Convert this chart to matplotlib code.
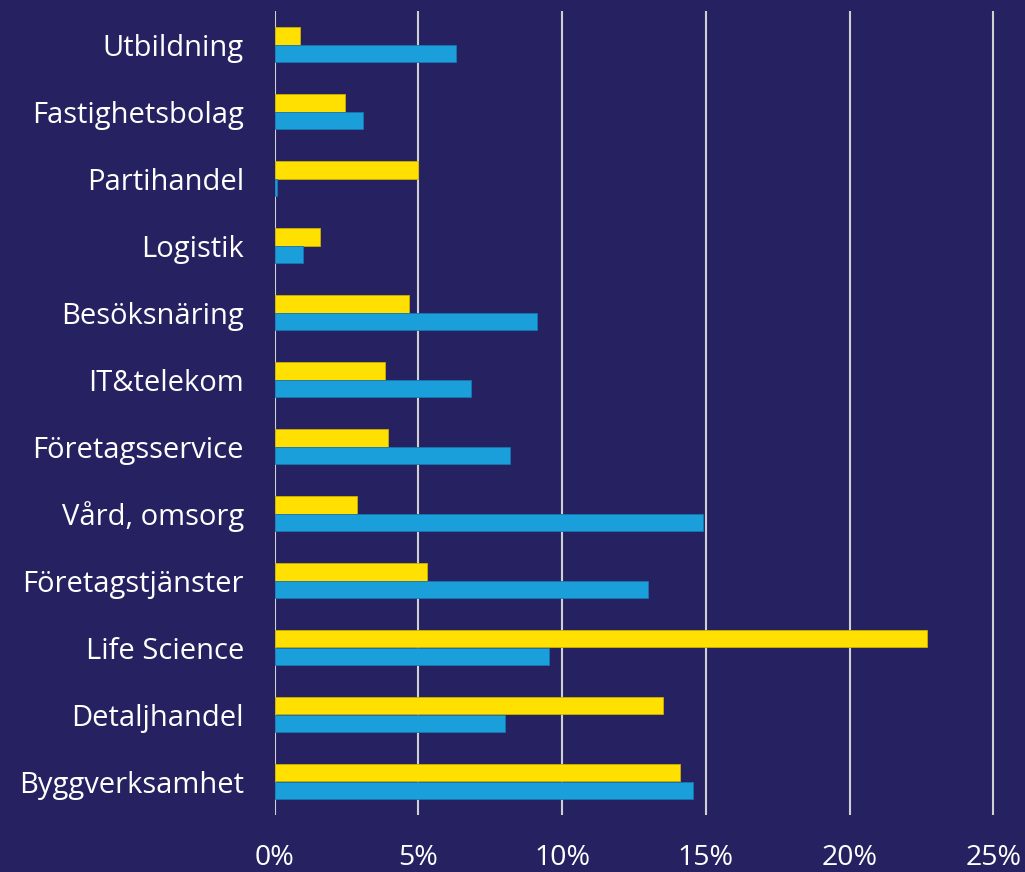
import matplotlib.pyplot as plt
import numpy as np

# data (percent), top to bottom as in the picture
branscher = ["Utbildning", "Fastighetsbolag", "Partihandel", "Logistik",
             "Besöksnäring", "IT&telekom", "Företagsservice", "Vård, omsorg",
             "Företagstjänster", "Life Science", "Detaljhandel", "Byggverksamhet"]
gul = [0.9, 2.45, 5.0, 1.57, 4.67, 3.85, 3.95, 2.87, 5.3, 22.7, 13.5, 14.1]
bla = [6.3, 3.07, 0.07, 1.0, 9.12, 6.83, 8.18, 14.9, 13.0, 9.55, 8.0, 14.55]
xticks = [0, 5, 10, 15, 20, 25]

bg = "#262262"
plt.rcParams['font.family'] = ['Open Sans', 'DejaVu Sans']

fig = plt.figure(figsize=(10.25, 8.72), dpi=100)
fig.patch.set_facecolor(bg)
ax = fig.add_axes([274.5 / 1025, 57 / 872, 1 - 274.5 / 1025, 804 / 872])
ax.set_facecolor(bg)

y = np.arange(len(branscher))
h = 0.26
ax.barh(y - h / 2, gul, height=h, color="#FFE000", edgecolor="#C9B200", linewidth=0.6, zorder=3)
ax.barh(y + h / 2, bla, height=h, color="#1B9FDB", edgecolor="#1776B0", linewidth=0.6, zorder=3)

ax.set_ylim(len(branscher) - 0.5, -0.5)
ax.set_xlim(0, 26.1)
ax.set_yticks(y)
ax.set_yticklabels(branscher, color="white", fontsize=21)
ax.set_xticks(xticks)
ax.set_xticklabels([f"{t}%" for t in xticks], color="white", fontsize=20.5)
ax.tick_params(length=0)
ax.tick_params(axis="y", pad=22)
ax.tick_params(axis="x", pad=21)
ax.grid(axis="x", color="#D0D0D0", linewidth=1.5, zorder=0)
for s in ax.spines.values():
    s.set_visible(False)

fig.savefig("out.png", facecolor=bg)
